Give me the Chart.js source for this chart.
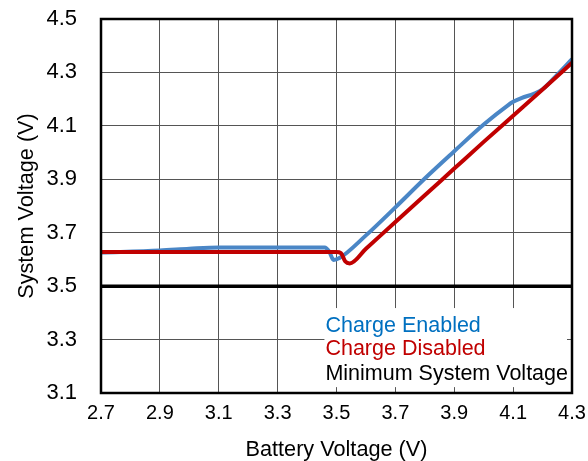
<!DOCTYPE html>
<html>
<head>
<meta charset="utf-8">
<script src="https://cdn.jsdelivr.net/npm/chart.js@4/dist/chart.umd.min.js"></script>
<style>
  html, body { margin: 0; padding: 0; background: #fff; }
  #wrap { width: 588px; height: 461px; position: relative; }
</style>
</head>
<body>
<div id="wrap"><canvas id="c" width="588" height="461"></canvas></div>
<script>
// ---- data ----
const xTicks = [2.7, 2.9, 3.1, 3.3, 3.5, 3.7, 3.9, 4.1, 4.3];
const yTicks = [3.1, 3.3, 3.5, 3.7, 3.9, 4.1, 4.3, 4.5];

const enabledX = [2.7, 2.9, 3.0, 3.1, 3.3, 3.46, 3.475, 3.49, 3.51, 3.6, 3.7, 3.8, 3.9, 4.0, 4.08, 4.1, 4.13, 4.17, 4.2, 4.25, 4.3];
const enabledY = [3.626, 3.633, 3.640, 3.645, 3.645, 3.645, 3.630, 3.598, 3.605, 3.690, 3.795, 3.903, 4.005, 4.105, 4.175, 4.190, 4.205, 4.220, 4.237, 4.292, 4.350];

const disabledX = [2.7, 3.0, 3.3, 3.5, 3.515, 3.53, 3.545, 3.6, 3.7, 3.8, 3.9, 4.0, 4.1, 4.2, 4.3];
const disabledY = [3.628, 3.628, 3.628, 3.628, 3.624, 3.592, 3.585, 3.640, 3.740, 3.840, 3.940, 4.040, 4.138, 4.236, 4.336];

const minX = [2.7, 4.3];
const minY = [3.5, 3.5];

const legendLabels = ['Charge Enabled', 'Charge Disabled', 'Minimum System Voltage'];
const legendColors = ['#0070C0', '#C00000', '#000000'];

const pts = (xs, ys) => xs.map((x, i) => ({ x: x, y: ys[i] }));

const FONT = '"Liberation Sans", Arial, sans-serif';

const framePlugin = {
  id: 'frame',
  beforeDatasetsDraw(chart) {
    const { ctx, scales: { x, y } } = chart;
    const l = x.getPixelForValue(3.459), r = x.getPixelForValue(4.283);
    const t = y.getPixelForValue(3.418), b = y.getPixelForValue(3.122);
    ctx.save();
    ctx.fillStyle = '#ffffff';
    ctx.fillRect(l, t, r - l, b - t);
    ctx.restore();
  },
  afterDatasetsDraw(chart) {
    const { ctx, chartArea: a } = chart;
    ctx.save();
    ctx.strokeStyle = '#000';
    ctx.lineWidth = 2.5;
    ctx.strokeRect(a.left, a.top, a.right - a.left, a.bottom - a.top);
    ctx.restore();
  },
  afterDraw(chart) {
    const { ctx, scales: { x, y } } = chart;
    const l = x.getPixelForValue(3.459) + 1;
    const t = y.getPixelForValue(3.418);
    const offs = [24, 47, 72];
    ctx.save();
    ctx.font = '21.5px ' + FONT;
    ctx.textBaseline = 'alphabetic';
    ctx.textAlign = 'left';
    legendLabels.forEach((lab, i) => {
      ctx.fillStyle = legendColors[i];
      ctx.fillText(lab, l, t + offs[i]);
    });
    ctx.restore();
  }
};

new Chart(document.getElementById('c'), {
  type: 'line',
  data: {
    datasets: [
      { label: legendLabels[0], data: pts(enabledX, enabledY), borderColor: '#4A86C6', borderWidth: 4, pointRadius: 0, cubicInterpolationMode: 'monotone', order: 2 },
      { label: legendLabels[1], data: pts(disabledX, disabledY), borderColor: '#C00000', borderWidth: 4, pointRadius: 0, cubicInterpolationMode: 'monotone', order: 1 },
      { label: legendLabels[2], data: pts(minX, minY), borderColor: '#000000', borderWidth: 3.5, pointRadius: 0, order: 3 }
    ]
  },
  options: {
    responsive: false,
    animation: false,
    devicePixelRatio: 1,
    layout: { padding: { left: 14, right: 16, top: 19, bottom: 0 } },
    plugins: { legend: { display: false }, tooltip: { enabled: false } },
    scales: {
      x: {
        type: 'linear', min: 2.7, max: 4.3,
        afterBuildTicks: s => { s.ticks = xTicks.map(v => ({ value: v })); },
        afterFit: s => { s.height = 68; s.paddingLeft = 0; s.paddingRight = 0; },
        ticks: { font: { family: FONT, size: 20 }, color: '#000', padding: 8, maxRotation: 0,
                 callback: v => v.toFixed(1) },
        grid: { color: '#555', lineWidth: 1, drawTicks: false },
        border: { display: false },
        title: { display: true, text: 'Battery Voltage (V)', font: { family: FONT, size: 21.7 }, color: '#000', padding: { top: 0, bottom: -2 } }
      },
      y: {
        type: 'linear', min: 3.1, max: 4.5,
        afterBuildTicks: s => { s.ticks = yTicks.map(v => ({ value: v })); },
        afterFit: s => { s.width = 87; s.paddingTop = 0; s.paddingBottom = 0; },
        ticks: { font: { family: FONT, size: 22 }, color: '#000', padding: 24,
                 callback: v => v.toFixed(1) },
        grid: { color: '#555', lineWidth: 1, drawTicks: false },
        border: { display: false },
        title: { display: true, text: 'System Voltage (V)', font: { family: FONT, size: 21.7 }, color: '#000', padding: { top: 0, bottom: 0 } }
      }
    }
  },
  plugins: [framePlugin]
});
</script>
</body>
</html>
